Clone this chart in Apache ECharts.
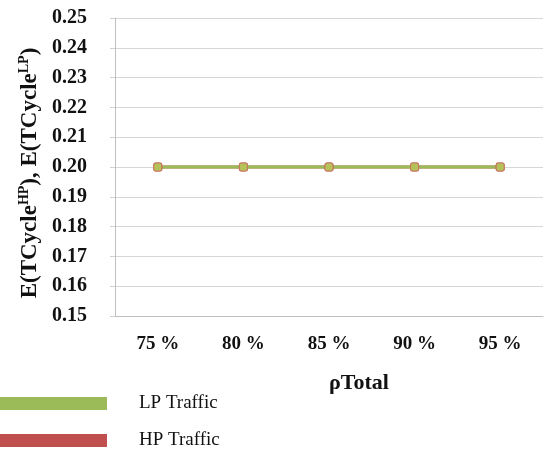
<!DOCTYPE html>
<html>
<head>
<meta charset="utf-8">
<script src="https://cdn.jsdelivr.net/npm/echarts@6/dist/echarts.min.js"></script>
<style>
html,body{margin:0;padding:0;background:#fff;}
#chart1{width:546px;height:454px;}
</style>
</head>
<body>
<div id="chart1"></div>
<script>
// 数据
var rhoLabels=["75 %","80 %","85 %","90 %","95 %"];
var lpTraffic=[0.2,0.2,0.2,0.2,0.2];
var hpTraffic=[0.2,0.2,0.2,0.2,0.2];
var yTicks=[0.15,0.25,0.01];//min,max,step

var serif="'Liberation Serif','DejaVu Serif',serif";
var legendText={fontFamily:serif,fontSize:19,color:"#111",lineHeight:14,padding:[0,0,0,27]};
var cycleChart=echarts.init(document.getElementById("chart1"));
var cycleOption={
    animation:false,
    legend:[
        {left:0,top:394,padding:0,itemWidth:107,itemHeight:13,icon:"rect",
            data:[{name:"LP Traffic",itemStyle:{color:"#9bbb59",borderWidth:0}}],textStyle:legendText},
        {left:0,top:431,padding:0,itemWidth:107,itemHeight:13,icon:"rect",
            data:[{name:"HP Traffic",itemStyle:{color:"#c0504d",borderWidth:0}}],textStyle:legendText}
    ],
    grid:{left:115,right:3,top:18,bottom:138},
    xAxis:{
        type:"category",
        data:rhoLabels,
        boundaryGap:true,
        name:"ρTotal",
        nameLocation:"middle",
        nameGap:56,
        nameTextStyle:{fontFamily:serif,fontWeight:"bold",fontSize:22,color:"#111",padding:[0,0,0,60]},
        axisLine:{lineStyle:{color:"#bfbfbf"}},
        axisTick:{alignWithLabel:false,length:4,lineStyle:{color:"#bfbfbf"}},
        axisLabel:{fontFamily:serif,fontWeight:"bold",fontSize:19,color:"#111",margin:19}
    },
    yAxis:{
        type:"value",
        min:yTicks[0],
        max:yTicks[1],
        interval:yTicks[2],
        name:"{b|E(TCycle}{s|HP}{b|), E(TCycle}{s|LP}{b|)}",
        nameLocation:"middle",
        nameGap:70,
        nameTextStyle:{
            padding:[0,12,0,0],
            rich:{
                b:{fontFamily:serif,fontWeight:"bold",fontSize:23,color:"#111"},
                s:{fontFamily:serif,fontWeight:"bold",fontSize:14,color:"#111",verticalAlign:"top",padding:[0,0,10,0]}
            }
        },
        axisLine:{show:true,lineStyle:{color:"#bfbfbf"}},
        axisTick:{show:true,length:5,lineStyle:{color:"#d0d0d0"}},
        splitLine:{lineStyle:{color:"#d6d6d6"}},
        axisLabel:{fontFamily:serif,fontWeight:"bold",fontSize:20,color:"#111",margin:28,
            formatter:function(v){return v.toFixed(2);}}
    },
    series:[
        {name:"HP Traffic",
            type:"line",
            data:hpTraffic,
            color:"#c0504d",
            symbol:"roundRect",
            symbolSize:9,
            lineStyle:{width:3,color:"#c0504d"},
            itemStyle:{color:"#c0504d"}
        },
        {name:"LP Traffic",
            type:"line",
            data:lpTraffic,
            color:"#9bbb59",
            symbol:"roundRect",
            symbolSize:8,
            lineStyle:{width:3,color:"#9bbb59"},
            itemStyle:{color:"#b5c25a",borderColor:"#c97a60",borderWidth:1}
        }
    ]
};
cycleChart.setOption(cycleOption);
</script>
</body>
</html>
